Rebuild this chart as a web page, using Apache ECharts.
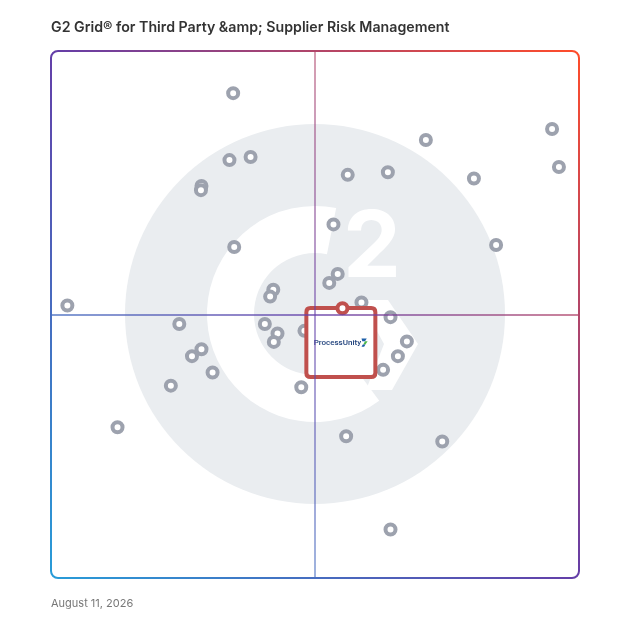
<!DOCTYPE html>
<html>
<head>
<meta charset="utf-8">
<script src="https://cdn.jsdelivr.net/npm/echarts@6/dist/echarts.min.js"></script>
<style>
  html, body { margin: 0; padding: 0; background: #fff; }
  #main { width: 628px; height: 628px; }
</style>
</head>
<body>
<div id="main"></div>
<script>
var chartTitle = 'G2 Grid® for Third Party &amp; Supplier Risk Management';
var dateLabel = 'August 11, 2026';

// x = satisfaction, y = market presence (0..100, centre line at 50)
var satisfaction = [34.5, 33.8, 37.8, 28.5, 28.4, 34.7, 42.1, 41.5, 3.1, 94.9,
  96.2, 71.0, 56.2, 63.8, 80.1, 53.5, 84.3, 54.3, 52.7, 58.8,
  64.3, 24.3, 28.5, 26.7, 30.6, 22.7, 12.6, 40.5, 42.9, 42.2,
  48.0, 47.4, 67.4, 65.7, 62.9, 55.9, 74.1, 64.3];
var marketPresence = [92.0, 79.3, 79.9, 74.4, 73.6, 62.8, 54.7, 53.4, 51.7, 85.2,
  78.0, 83.1, 76.5, 77.0, 75.8, 67.1, 63.2, 57.7, 56.0, 52.3,
  49.5, 48.2, 43.4, 42.1, 39.0, 36.5, 28.6, 48.2, 46.4, 44.8,
  46.9, 36.2, 44.9, 42.1, 39.5, 26.9, 25.9, 9.2];

var highlightName = 'ProcessUnity';
var highlightSatisfaction = 55.2;
var highlightPresence = 51.2;

var vendorData = satisfaction.map(function (x, i) { return [x, marketPresence[i]]; });
var highlightData = [[highlightSatisfaction, highlightPresence]];

var myChart = echarts.init(document.getElementById('main'));

// border gradient runs from bottom-left (blue) to top-right (orange)
function frameGradient(alpha) {
  return new echarts.graphic.LinearGradient(51, 578, 579, 51, [
    { offset: 0, color: 'rgba(40,156,216,' + alpha + ')' },
    { offset: 0.5, color: 'rgba(100,62,168,' + alpha + ')' },
    { offset: 1, color: 'rgba(255,76,42,' + alpha + ')' }
  ], true);
}

var iconSvg = '<svg xmlns="http://www.w3.org/2000/svg" width="16" height="20" viewBox="0 0 16 20">' +
  '<path d="M1 1h12l-4 6H3z" fill="#1d5fa8"/>' +
  '<path d="M9 7h6l-5 7H5z" fill="#4cb848"/>' +
  '<path d="M4 14h6l-3 5H1z" fill="#1d5fa8"/></svg>';
var iconUri = 'data:image/svg+xml;charset=utf-8,' + encodeURIComponent(iconSvg);

var option = {
  backgroundColor: '#fff',
  animation: false,
  title: [{
    text: chartTitle,
    left: 51,
    top: 21,
    padding: 0,
    textStyle: {
      fontFamily: 'Inter',
      fontSize: 14.2,
      fontWeight: 600,
      color: '#333'
    }
  }, {
    text: dateLabel,
    left: 51,
    top: 598,
    padding: 0,
    textStyle: {
      fontFamily: 'Inter',
      fontSize: 11,
      fontWeight: 400,
      color: '#777'
    }
  }],
  grid: { left: 51, top: 51, width: 528, height: 527 },
  xAxis: { type: 'value', min: 0, max: 100, show: false },
  yAxis: { type: 'value', min: 0, max: 100, show: false },
  graphic: [
    // G2 watermark
    { type: 'circle', z: 0, shape: { cx: 315, cy: 314, r: 190 }, style: { fill: '#eaedf0' } },
    { type: 'sector', z: 0, shape: { cx: 315, cy: 314, r0: 61, r: 108,
        startAngle: 53.5 * Math.PI / 180, endAngle: 281.3 * Math.PI / 180, clockwise: true },
      style: { fill: '#fff' } },
    { type: 'polygon', z: 0, shape: { points: [[360, 300], [388, 300], [418, 344], [392, 390], [366, 390], [384, 344]] },
      style: { fill: '#fff' } },
    { type: 'text', z: 0, x: 372, y: 249,
      style: { text: '2', fill: '#fff', font: '700 92px Inter', align: 'center', verticalAlign: 'middle' } },
    // frame
    { type: 'rect', z: 1, shape: { x: 51, y: 51, width: 528, height: 527, r: 7 },
      style: { fill: null, stroke: frameGradient(1), lineWidth: 2 } }
  ],
  series: [
    {
      name: 'quadrants',
      type: 'scatter',
      z: 1,
      data: [],
      silent: true,
      markLine: {
        silent: true,
        symbol: 'none',
        label: { show: false },
        emphasis: { disabled: true },
        data: [
          { xAxis: 50, lineStyle: { color: frameGradient(0.7), width: 1.5, type: 'solid' } },
          { yAxis: 50, lineStyle: { color: frameGradient(0.9), width: 1.5, type: 'solid' } }
        ]
      }
    },
    {
      name: 'vendors',
      type: 'scatter',
      z: 2,
      data: vendorData,
      symbol: 'circle',
      symbolSize: 10,
      itemStyle: { color: '#fff', borderColor: '#9da2ae', borderWidth: 4, opacity: 1 }
    },
    {
      name: highlightName + ' box',
      type: 'scatter',
      z: 3,
      data: highlightData,
      symbol: 'path://M6,0H94Q100,0,100,6V94Q100,100,94,100H6Q0,100,0,94V6Q0,0,6,0Z',
      symbolSize: [69, 69],
      symbolOffset: [-1.6, 34.4],
      itemStyle: { color: '#fff', borderColor: '#c0504d', borderWidth: 4, opacity: 1 },
      label: {
        show: true,
        position: 'inside',
        formatter: '{t|' + highlightName + '}{i|}',
        rich: {
          t: { fontFamily: 'Roboto', fontSize: 8, fontWeight: 500, color: '#1d3f7a' },
          i: { width: 7, height: 9, backgroundColor: { image: iconUri } }
        }
      }
    },
    {
      name: highlightName,
      type: 'scatter',
      z: 4,
      data: highlightData,
      symbol: 'circle',
      symbolSize: 10,
      itemStyle: { color: '#fff', borderColor: '#c0504d', borderWidth: 4, opacity: 1 }
    }
  ]
};
myChart.setOption(option);
</script>
</body>
</html>
